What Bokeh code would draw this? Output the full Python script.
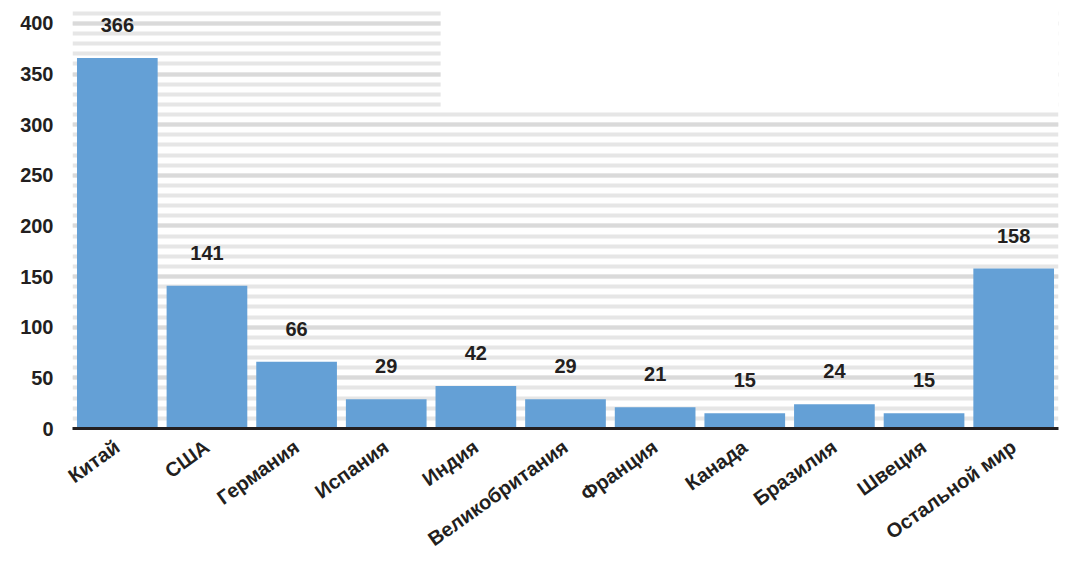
from bokeh.plotting import figure
from bokeh.models import ColumnDataSource, SingleIntervalTicker, BoxAnnotation, Range1d
from bokeh.core.properties import value
from bokeh.embed import file_html
from bokeh.resources import INLINE

# data
countries = ["Китай", "США", "Германия", "Испания", "Индия", "Великобритания",
             "Франция", "Канада", "Бразилия", "Швеция", "Остальной мир"]
amounts = [366, 141, 66, 29, 42, 29, 21, 15, 24, 15, 158]

FONT = "Liberation Sans"
INK = "#231f20"

src = ColumnDataSource(dict(country=countries, amount=amounts,
                            label=[str(a) for a in amounts]))

p = figure(x_range=countries, y_range=Range1d(0, 414.8),
           frame_width=986, frame_height=420,
           min_border_left=72, min_border_right=4, min_border_top=8, min_border_bottom=130,
           output_backend="svg", toolbar_location=None, tools="")
p.x_range.range_padding = 0
p.outline_line_color = None

p.vbar(x="country", top="amount", width=0.9, source=src, color="#64a0d6", line_color=None)
p.text(x="country", y="amount", text="label", source=src, y_offset=-26,
       text_align="center", text_baseline="bottom", text_color=INK,
       text_font=value(FONT), text_font_style="bold", text_font_size="20px")

# striped background
ticker = SingleIntervalTicker(interval=50, num_minor_ticks=5)
p.yaxis.ticker = ticker
p.ygrid.ticker = ticker
p.ygrid.grid_line_color = "#dadada"
p.ygrid.grid_line_width = 4
p.ygrid.minor_grid_line_color = "#e6e6e6"
p.ygrid.minor_grid_line_width = 4
p.xgrid.grid_line_color = None
# the source image lost the upper stripes on the right side
p.add_layout(BoxAnnotation(left=4.107, right=11, bottom=315, top=414.8,
                           fill_color="white", fill_alpha=1, line_color=None))

p.yaxis.axis_line_color = None
p.yaxis.major_tick_line_color = None
p.yaxis.minor_tick_line_color = None
p.yaxis.major_tick_out = 0
p.yaxis.minor_tick_out = 0
p.yaxis.major_label_standoff = 19
p.yaxis.major_label_text_font = FONT
p.yaxis.major_label_text_font_style = "bold"
p.yaxis.major_label_text_font_size = "20px"
p.yaxis.major_label_text_color = INK

p.xaxis.axis_line_color = INK
p.xaxis.axis_line_width = 3
p.xaxis.major_tick_line_color = None
p.xaxis.major_tick_out = 0
p.xaxis.major_label_orientation = 0.62
p.xaxis.major_label_standoff = 16
p.xaxis.major_label_text_font = FONT
p.xaxis.major_label_text_font_style = "bold"
p.xaxis.major_label_text_font_size = "20px"
p.xaxis.major_label_text_color = INK

open("out.html", "w").write(file_html(p, INLINE))
